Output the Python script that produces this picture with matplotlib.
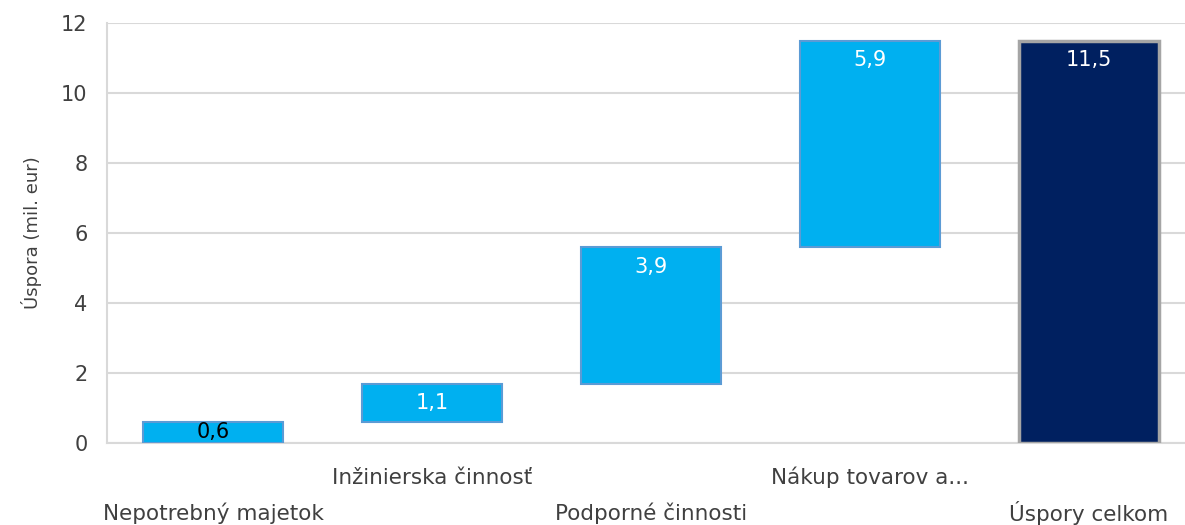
import numpy as np
import matplotlib
matplotlib.use("Agg")
import matplotlib.pyplot as plt

categories = ["Nepotrebný majetok", "Inžinierska činnosť", "Podporné činnosti",
              "Nákup tovarov a...", "Úspory celkom"]
steps = [0.6, 1.1, 3.9, 5.9]
total = 11.5
label_colors = ["black", "white", "white", "white", "white"]

plt.rcParams['font.family'] = ['DejaVu Sans']

fig = plt.figure(figsize=(11.85, 5.25), dpi=100)
ax = fig.add_axes([107 / 1185, 82 / 525, 1 - 107 / 1185, 420 / 525])

x = np.arange(len(categories))
bottoms = np.concatenate([[0], np.cumsum(steps)[:-1], [0]])
heights = np.array(steps + [total])

ax.bar(x[:-1], heights[:-1], bottom=bottoms[:-1], width=0.64,
       color="#00B0F0", edgecolor="#5B9BD5", linewidth=1.5, zorder=3)
ax.bar(x[-1], heights[-1], bottom=bottoms[-1], width=0.64,
       color="#002060", edgecolor="#A5A5A5", linewidth=2.5, zorder=3)

for i in range(len(x)):
    top = bottoms[i] + heights[i]
    ypos = max(top - 0.57, bottoms[i] + heights[i] / 2)
    ax.text(x[i], ypos, f"{heights[i]:.1f}".replace(".", ","), ha="center",
            va="center", fontsize=15, color=label_colors[i], zorder=4)

ax.set_ylim(0, 12)
ax.set_yticks(np.arange(0, 13, 2))
ax.set_xlim(-0.484, 4.438)
ax.set_xticks([])
ax.grid(axis="y", color="#D9D9D9", linewidth=1.5, zorder=0)
ax.tick_params(axis="y", length=0, pad=14, labelsize=15, labelcolor="#404040")
for sp in ["top", "right"]:
    ax.spines[sp].set_visible(False)
ax.spines["left"].set_color("#D9D9D9")
ax.spines["bottom"].set_color("#D9D9D9")
ax.spines["left"].set_linewidth(1.5)
ax.spines["bottom"].set_linewidth(1.5)

for i, name in enumerate(categories):
    off = -25 if i % 2 == 1 else -50.5
    ax.annotate(name, xy=(x[i], 0), xycoords=("data", "axes fraction"),
                xytext=(0, off), textcoords="offset points", ha="center",
                va="center", fontsize=15.5, color="#404040")

ax.set_ylabel("Úspora (mil. eur)", fontsize=13, color="#404040", labelpad=14)

fig.savefig("out.png", dpi=100)
